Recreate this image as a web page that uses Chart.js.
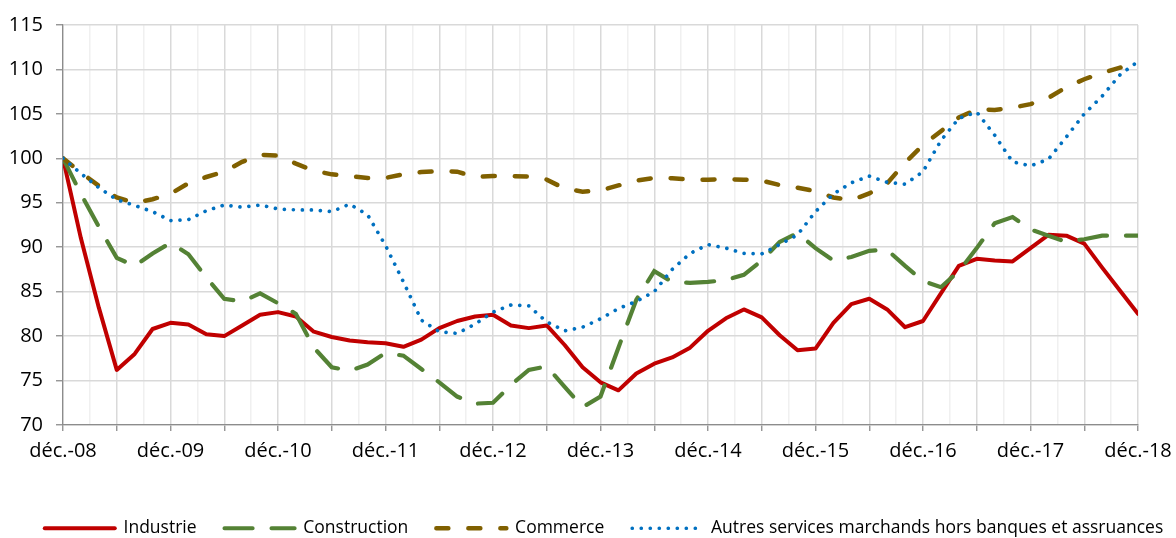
<!DOCTYPE html>
<html lang="fr">
<head>
    <meta charset="UTF-8">
    <title>Indices par secteur</title>
    <script src="https://cdn.jsdelivr.net/npm/chart.js"></script>
    <style>
        body { margin: 0; background: #fff; }
        .frame { width: 1176px; height: 538px; overflow: hidden; }
        /* a bit wider than the window so the legend centre lands where it should */
        .chart-container { width: 1208px; height: 538px; position: relative; }
    </style>
</head>
<body>

<div class="frame">
    <div class="chart-container">
        <canvas id="myChart"></canvas>
    </div>
</div>

<script>
    // one point every two months, from déc.-08 to déc.-18
    const tickLabels = ['déc.-08', 'déc.-09', 'déc.-10', 'déc.-11', 'déc.-12', 'déc.-13',
        'déc.-14', 'déc.-15', 'déc.-16', 'déc.-17', 'déc.-18'];
    const monthsPerPoint = 2;

    const industrie = [100, 91.0, 83.2, 76.2, 78.0, 80.8, 81.5, 81.3, 80.2, 80.0, 81.2,
        82.4, 82.7, 82.2, 80.5, 79.9, 79.5, 79.3, 79.2, 78.8, 79.6,
        80.9, 81.7, 82.2, 82.4, 81.2, 80.9, 81.2, 79.0, 76.5, 74.8,
        73.9, 75.8, 76.9, 77.6, 78.7, 80.6, 82.0, 83.0, 82.1, 80.1,
        78.4, 78.6, 81.5, 83.6, 84.2, 83.0, 81.0, 81.7, 84.8, 87.9,
        88.7, 88.5, 88.4, 89.9, 91.4, 91.3, 90.4, 87.7, 85.1, 82.5];

    const construction = [100, 96.0, 92.3, 88.8, 87.9, 89.3, 90.5, 89.2, 86.6, 84.2, 83.9,
        84.8, 83.7, 82.5, 78.7, 76.5, 76.1, 76.8, 78.1, 77.8, 76.3,
        74.8, 73.2, 72.4, 72.5, 74.5, 76.2, 76.6, 74.3, 72.0, 73.2,
        78.7, 84.1, 87.3, 86.1, 86.0, 86.1, 86.3, 86.9, 88.5, 90.6,
        91.6, 89.9, 88.5, 88.9, 89.6, 89.7, 87.9, 86.2, 85.5, 87.3,
        89.9, 92.7, 93.4, 92.0, 91.3, 90.6, 90.9, 91.3, 91.3, 91.3];

    const commerce = [100, 98.4, 96.9, 95.6, 95.0, 95.4, 96.0, 97.2, 97.9, 98.5, 99.6,
        100.4, 100.3, 99.4, 98.6, 98.2, 98.0, 97.8, 97.8, 98.2, 98.45,
        98.55, 98.5, 97.9, 98.0, 98.0, 97.95, 97.6, 96.6, 96.25, 96.4,
        96.95, 97.5, 97.8, 97.75, 97.6, 97.6, 97.65, 97.6, 97.5, 97.0,
        96.7, 96.3, 95.6, 95.3, 96.05, 97.2, 99.5, 101.5, 103.05, 104.6,
        105.5, 105.45, 105.7, 106.1, 106.8, 108.0, 108.9, 109.6, 110.2, 110.75];

    const autresServices = [100, 98.3, 96.7, 95.35, 94.7, 94.0, 93.0, 93.1, 94.1, 94.75, 94.5,
        94.75, 94.3, 94.2, 94.2, 94.0, 94.85, 93.65, 90.2, 86.1, 81.8,
        80.5, 80.3, 81.35, 82.7, 83.5, 83.4, 81.6, 80.6, 81.0, 81.95,
        83.1, 83.9, 85.0, 87.5, 89.3, 90.3, 89.9, 89.3, 89.25, 90.3,
        91.4, 94.0, 96.0, 97.25, 98.0, 97.3, 97.1, 98.5, 102.0, 104.5,
        105.2, 102.6, 99.6, 99.15, 99.9, 102.4, 105.0, 107.0, 109.4, 110.9];

    function toPoints(values) {
        return values.map((v, i) => ({ x: i * monthsPerPoint, y: v }));
    }

    Chart.defaults.font.family = "'Open Sans', sans-serif";
    Chart.defaults.color = '#000';

    const ctx = document.getElementById('myChart').getContext('2d');

    new Chart(ctx, {
        type: 'line',
        data: {
            datasets: [
                {
                    label: 'Industrie',
                    data: toPoints(industrie),
                    borderColor: '#C00000',
                    backgroundColor: 'transparent',
                    borderWidth: 4,
                    borderCapStyle: 'round',
                    borderJoinStyle: 'round',
                    order: 3
                },
                {
                    label: 'Construction',
                    data: toPoints(construction),
                    borderColor: '#548235',
                    backgroundColor: 'transparent',
                    borderWidth: 4.2,
                    borderDash: [28, 19],
                    borderCapStyle: 'round',
                    order: 2
                },
                {
                    label: 'Commerce',
                    data: toPoints(commerce),
                    borderColor: '#806000',
                    backgroundColor: 'transparent',
                    borderWidth: 4.5,
                    borderDash: [12, 20],
                    borderCapStyle: 'round',
                    order: 1
                },
                {
                    label: 'Autres services marchands hors banques et assruances',
                    data: toPoints(autresServices),
                    borderColor: '#0070C0',
                    backgroundColor: 'transparent',
                    borderWidth: 3.7,
                    borderDash: [0.01, 9],
                    borderCapStyle: 'round',
                    order: 0
                }
            ]
        },
        options: {
            responsive: true,
            maintainAspectRatio: false,
            animation: false,
            elements: {
                point: { radius: 0, hoverRadius: 0 },
                line: { tension: 0 }
            },
            layout: {
                padding: { top: 22, right: 0, bottom: -9, left: 0 }
            },
            scales: {
                x: {
                    type: 'linear',
                    min: 0,
                    max: 120,
                    afterFit: scale => {
                        scale.height = 66.5;
                        scale.paddingRight = 70;
                    },
                    ticks: {
                        stepSize: 3,
                        autoSkip: false,
                        maxRotation: 0,
                        minRotation: 0,
                        padding: 8,
                        font: { size: 20 },
                        callback: value => value % 12 === 0 ? tickLabels[value / 12] : ''
                    },
                    grid: {
                        color: c => c.tick && c.tick.value % 6 === 0 ? '#D9D9D9' : '#F0F0F0',
                        lineWidth: 1.5,
                        tickLength: 6,
                        tickColor: c => c.tick && c.tick.value % 6 === 0 ? '#8C8C8C' : 'rgba(0,0,0,0)',
                        tickWidth: 1.3
                    },
                    border: { color: '#8C8C8C', width: 1.3 }
                },
                y: {
                    min: 70,
                    max: 115,
                    afterFit: scale => {
                        scale.width = 63;
                    },
                    ticks: {
                        stepSize: 5,
                        padding: 13,
                        font: { size: 20 }
                    },
                    grid: {
                        color: '#D9D9D9',
                        lineWidth: 1.5,
                        tickLength: 7,
                        tickColor: '#8C8C8C',
                        tickWidth: 1.3
                    },
                    border: { color: '#8C8C8C', width: 1.3 }
                }
            },
            plugins: {
                legend: {
                    position: 'bottom',
                    labels: {
                        usePointStyle: true,
                        pointStyle: 'line',
                        pointStyleWidth: 70,
                        padding: 28,
                        color: '#000',
                        font: { size: 17.5 },
                        sort: (a, b) => a.datasetIndex - b.datasetIndex,
                        // take the dash pattern of each line, not the point style
                        generateLabels: chart => {
                            const items = Chart.defaults.plugins.legend.labels.generateLabels(chart);
                            return items.map(item => {
                                const ds = chart.data.datasets[item.datasetIndex];
                                item.lineDash = ds.borderDash || [];
                                item.lineCap = ds.borderCapStyle;
                                item.lineWidth = ds.borderWidth;
                                item.strokeStyle = ds.borderColor;
                                item.fillStyle = 'transparent';
                                item.pointStyle = 'line';
                                return item;
                            });
                        }
                    }
                },
                tooltip: { enabled: false }
            }
        }
    });
</script>

</body>
</html>
